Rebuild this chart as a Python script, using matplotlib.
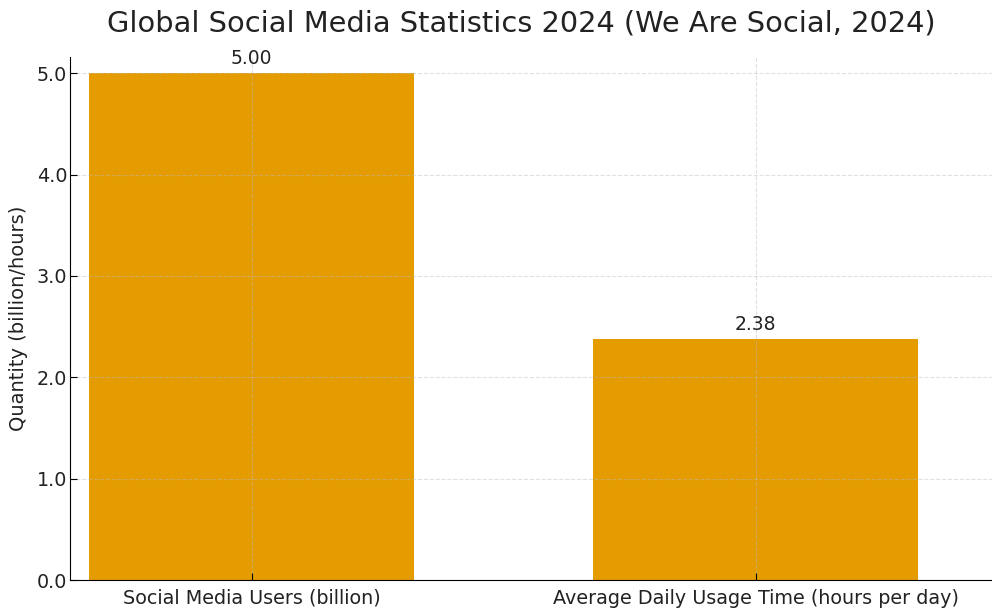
import matplotlib
matplotlib.use("Agg")
import matplotlib.pyplot as plt

plt.rcParams["font.family"] = ["DejaVu Sans"]

categories = ["Social Media Users (billion)", "Average Daily Usage Time (hours per day)"]
values = [5.00, 2.38]
value_labels = ["5.00", "2.38"]
yticks = [0.0, 1.0, 2.0, 3.0, 4.0, 5.0]

fig = plt.figure(figsize=(9.92, 6.12), dpi=100)
ax = fig.add_axes([0.0706, 0.052, 0.93, 0.855])

x = range(len(categories))
bars = ax.bar(x, values, width=0.645, color="#E59C00", zorder=1)
for b, lab in zip(bars, value_labels):
    ax.text(b.get_x() + b.get_width() / 2, b.get_height() + 0.05, lab,
            ha="center", va="bottom", fontsize=13.5, color="#222222")

ax.set_xticks(list(x))
ax.set_xticklabels(categories, fontsize=13.8, color="#222222")
ax.set_yticks(yticks)
ax.set_yticklabels([f"{t:.1f}" for t in yticks], fontsize=13.8, color="#222222")
ax.set_xlim(-0.36, 1.47)
ax.set_ylim(0, 5.16)
ax.tick_params(axis="y", direction="in", length=5, pad=2)
ax.tick_params(axis="x", direction="in", length=5, pad=6)
ax.grid(True, linestyle="--", color="#bbbbbb", alpha=0.45, linewidth=0.8, zorder=2)
ax.set_axisbelow(False)
for s in ["top", "right"]:
    ax.spines[s].set_visible(False)
ax.set_ylabel("Quantity (billion/hours)", fontsize=14, color="#222222", labelpad=6)
ax.set_title("Global Social Media Statistics 2024 (We Are Social, 2024)",
             fontsize=20.8, color="#222222", pad=18, x=0.489)

fig.savefig("out.png", dpi=100)
